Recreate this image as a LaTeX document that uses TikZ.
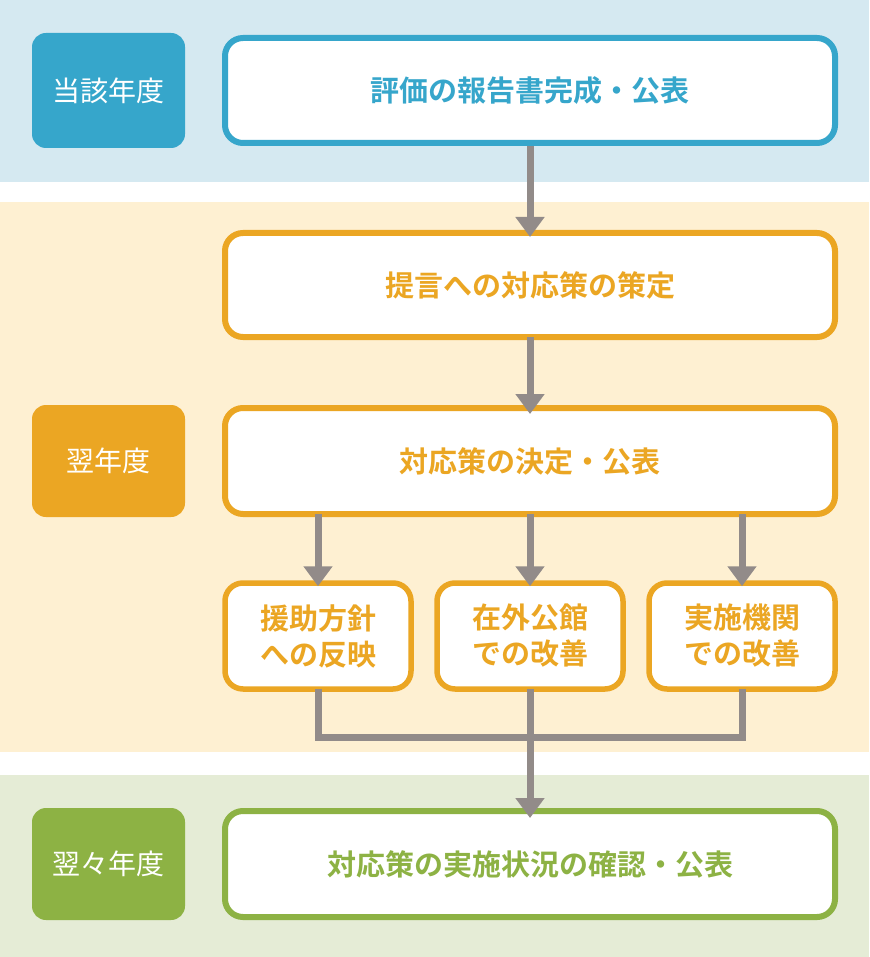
\documentclass[tikz,border=0pt]{standalone}
\usepackage{fontspec}
\setmainfont{Noto Sans CJK JP}[BoldFont={Noto Sans CJK JP Bold}]
\usetikzlibrary{arrows.meta}
\definecolor{cb}{HTML}{36A6CB}\definecolor{bb}{HTML}{D5E9F1}
\definecolor{co}{HTML}{EBA623}\definecolor{bo}{HTML}{FEF0D2}
\definecolor{cg}{HTML}{8DB244}\definecolor{bg}{HTML}{E5ECD6}
\definecolor{gr}{HTML}{928B89}
\begin{document}
\begin{tikzpicture}[x=1pt,y=-1pt,
 lab/.style={rounded corners=14pt,text=white,font=\fontsize{28}{30}\selectfont,inner sep=0},
 box/.style={draw,line width=6pt,fill=white,rounded corners=18pt,font=\bfseries\fontsize{29}{36}\selectfont,align=center,inner sep=0},
 conn/.style={gr,line width=7pt},
 arr/.style={conn,-{Triangle[length=20pt,width=28pt]}}]
\useasboundingbox (0,0) rectangle (869,957);
\fill[bb] (0,0) rectangle (869,182);
\fill[bo] (0,202) rectangle (869,752);
\fill[bg] (0,775) rectangle (869,957);
\node[lab,fill=cb,minimum width=153pt,minimum height=115pt] (l1) at (108.5,90.5) {当該年度};
\node[lab,fill=co,minimum width=153pt,minimum height=112pt] (l2) at (108.5,461) {翌年度};
\node[lab,fill=cg,minimum width=153pt,minimum height=112pt] (l3) at (108.5,864) {翌々年度};
\node[box,draw=cb,text=cb,minimum width=610pt,minimum height=105pt] (b1) at (530,90.5) {評価の報告書完成・公表};
\node[box,draw=co,text=co,minimum width=610pt,minimum height=104pt] (b2) at (530,285) {提言への対応策の策定};
\node[box,draw=co,text=co,minimum width=610pt,minimum height=106pt] (b3) at (530,461) {対応策の決定・公表};
\node[box,draw=co,text=co,minimum width=186pt,minimum height=106pt,line width=5.5pt] (s1) at (318,636) {援助方針\\への反映};
\node[box,draw=co,text=co,minimum width=186pt,minimum height=106pt,line width=5.5pt] (s2) at (530,636) {在外公館\\での改善};
\node[box,draw=co,text=co,minimum width=186pt,minimum height=106pt,line width=5.5pt] (s3) at (742,636) {実施機関\\での改善};
\node[box,draw=cg,text=cg,minimum width=610pt,minimum height=106pt] (b4) at (530,864) {対応策の実施状況の確認・公表};
\draw[arr] (b1.south) -- ([yshift=-7pt]b2.north);
\draw[arr] ([yshift=3pt]b2.south) -- ([yshift=-9pt]b3.north);
\foreach \s/\x in {s1/318,s2/530,s3/742}
  \draw[arr] ([yshift=3pt]b3.south -| \s) -- ([yshift=-6pt]\s.north);
\coordinate (j) at (530,737);
\draw[conn] ([yshift=3pt]s1.south) |- (j);
\draw[conn] ([yshift=3pt]s3.south) |- (j);
\draw[arr] ([yshift=3pt]s2.south) -- ([yshift=-10pt]b4.north);
\end{tikzpicture}
\end{document}
